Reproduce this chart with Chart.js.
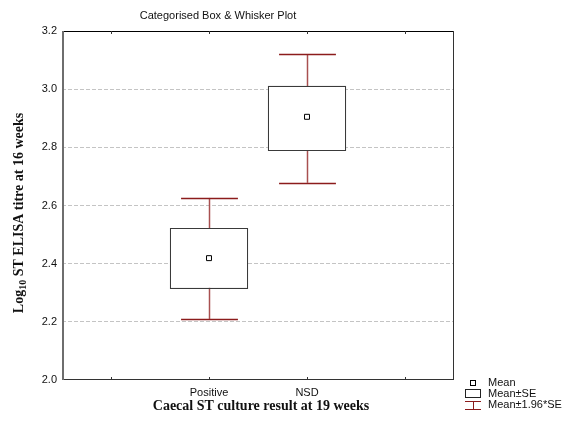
<!DOCTYPE html>
<html>
<head>
<meta charset="utf-8">
<script src="https://cdn.jsdelivr.net/npm/chart.js@4"></script>
<style>
  html, body { margin: 0; padding: 0; background: #fff; }
  #wrap { width: 562px; height: 421px; }
</style>
</head>
<body>
<div id="wrap"><canvas id="c" width="562" height="421"></canvas></div>
<script>
// ---- data ----
const categories = ['', 'Positive', 'NSD', ''];
const means  = [null, 2.419, 2.905, null];
const seLow  = [null, 2.313, 2.787, null];
const seHigh = [null, 2.523, 3.012, null];
const ciLow  = [null, 2.210, 2.678, null];
const ciHigh = [null, 2.626, 3.121, null];
const yTicks = [2.0, 2.2, 2.4, 2.6, 2.8, 3.0, 3.2];

const chartTitle = 'Categorised Box & Whisker Plot';
const xTitle = 'Caecal ST culture result at 19 weeks';
const legendLabels = ['Mean', 'Mean\u00B1SE', 'Mean\u00B11.96*SE'];

const RED = '#8c1c1c';
const SANS = '"Liberation Sans", Arial, sans-serif';
const SERIF = '"Liberation Serif", "Times New Roman", serif';

const boxData = categories.map((c, i) => seLow[i] == null ? null : [seLow[i], seHigh[i]]);

const customDraw = {
  id: 'customDraw',
  beforeDatasetsDraw(chart) {
    const ctx = chart.ctx, x = chart.scales.x, y = chart.scales.y;
    ctx.save();
    // whiskers (mean ± 1.96*SE)
    categories.forEach((c, i) => {
      if (ciLow[i] == null) return;
      const cx = Math.round(x.getPixelForValue(i)) + 0.5;
      const capHalf = x.width / categories.length * 0.29;
      const yl = y.getPixelForValue(ciLow[i]), yh = y.getPixelForValue(ciHigh[i]);
      ctx.strokeStyle = '#a85050';
      ctx.lineWidth = 1.5;
      ctx.beginPath();
      ctx.moveTo(cx, yl); ctx.lineTo(cx, yh);
      ctx.stroke();
      ctx.strokeStyle = RED;
      ctx.lineWidth = 1.5;
      ctx.beginPath();
      ctx.moveTo(cx - capHalf, Math.round(yl) + 0.5); ctx.lineTo(cx + capHalf, Math.round(yl) + 0.5);
      ctx.moveTo(cx - capHalf, Math.round(yh) + 0.5); ctx.lineTo(cx + capHalf, Math.round(yh) + 0.5);
      ctx.stroke();
    });
    ctx.restore();
  },
  afterDraw(chart) {
    const ctx = chart.ctx, a = chart.chartArea, x = chart.scales.x;
    ctx.save();
    // frame
    ctx.lineWidth = 1;
    ctx.strokeStyle = '#000';
    ctx.beginPath();
    ctx.moveTo(a.left, a.top + 0.5); ctx.lineTo(a.right, a.top + 0.5);
    ctx.stroke();
    ctx.strokeStyle = '#333';
    ctx.beginPath();
    ctx.moveTo(a.right - 0.5, a.top); ctx.lineTo(a.right - 0.5, a.bottom);
    ctx.moveTo(a.left, a.bottom - 0.5); ctx.lineTo(a.right, a.bottom - 0.5);
    ctx.stroke();
    ctx.strokeStyle = '#6e6e6e';
    ctx.lineWidth = 2;
    ctx.beginPath();
    ctx.moveTo(a.left + 1, a.top); ctx.lineTo(a.left + 1, a.bottom);
    ctx.stroke();
    // inward category tick marks (top and bottom)
    ctx.lineWidth = 1;
    ctx.strokeStyle = '#333';
    categories.forEach((c, i) => {
      const px = Math.round(x.getPixelForValue(i)) + 0.5;
      ctx.beginPath();
      ctx.moveTo(px, a.top); ctx.lineTo(px, a.top + 3);
      ctx.moveTo(px, a.bottom); ctx.lineTo(px, a.bottom - 3);
      ctx.stroke();
    });
    // chart title
    ctx.fillStyle = '#111';
    ctx.font = '11px ' + SANS;
    ctx.textAlign = 'center';
    ctx.textBaseline = 'middle';
    ctx.fillText(chartTitle, 218, 16);
    // x axis title
    ctx.font = 'bold 14px ' + SERIF;
    ctx.fillText(xTitle, 261, 406);
    // y axis title with subscript
    ctx.save();
    ctx.translate(18, 213);
    ctx.rotate(-Math.PI / 2);
    const bigF = 'bold 14px ' + SERIF, smallF = 'bold 10px ' + SERIF;
    const p1 = 'Log', p2 = '10', p3 = ' ST ELISA titre at 16 weeks';
    ctx.font = bigF; const w1 = ctx.measureText(p1).width, w3 = ctx.measureText(p3).width;
    ctx.font = smallF; const w2 = ctx.measureText(p2).width;
    let sx = -(w1 + w2 + w3) / 2;
    ctx.textAlign = 'left';
    ctx.textBaseline = 'alphabetic';
    ctx.font = bigF; ctx.fillText(p1, sx, 5); sx += w1;
    ctx.font = smallF; ctx.fillText(p2, sx, 8); sx += w2;
    ctx.font = bigF; ctx.fillText(p3, sx, 5);
    ctx.restore();
    // legend
    ctx.font = '11px ' + SANS;
    ctx.textAlign = 'left';
    ctx.textBaseline = 'middle';
    ctx.fillStyle = '#111';
    // Mean marker
    ctx.strokeStyle = '#000'; ctx.lineWidth = 1;
    ctx.strokeRect(470.5, 380.5, 5, 5);
    ctx.fillText(legendLabels[0], 488, 383);
    // box
    ctx.strokeStyle = '#222';
    ctx.strokeRect(465.5, 389.5, 15, 8);
    ctx.fillText(legendLabels[1], 488, 394);
    // whisker icon
    ctx.strokeStyle = RED;
    ctx.beginPath();
    ctx.moveTo(465, 401.5); ctx.lineTo(481, 401.5);
    ctx.moveTo(465, 409.5); ctx.lineTo(481, 409.5);
    ctx.moveTo(473.5, 401.5); ctx.lineTo(473.5, 409.5);
    ctx.stroke();
    ctx.fillText(legendLabels[2], 488, 405);
    ctx.restore();
  }
};

new Chart(document.getElementById('c'), {
  data: {
    labels: categories,
    datasets: [
      {
        type: 'bar',
        label: legendLabels[1],
        data: boxData,
        backgroundColor: '#ffffff',
        borderColor: '#3a3a3a',
        borderWidth: 1.2,
        borderSkipped: false,
        barPercentage: 0.8,
        categoryPercentage: 1.0,
        order: 2
      },
      {
        type: 'line',
        label: legendLabels[0],
        data: means,
        showLine: false,
        pointStyle: 'rect',
        pointRadius: 3.5,
        pointBackgroundColor: '#ffffff',
        pointBorderColor: '#000',
        pointBorderWidth: 1,
        order: 1
      }
    ]
  },
  options: {
    responsive: false,
    animation: false,
    devicePixelRatio: 1,
    layout: { padding: { left: 0, top: 31, right: 108, bottom: 0 } },
    plugins: {
      legend: { display: false },
      title: { display: false },
      tooltip: { enabled: false }
    },
    scales: {
      x: {
        type: 'category',
        offset: true,
        grid: { display: false, drawTicks: false },
        border: { display: false },
        ticks: { color: '#111', font: { family: SANS, size: 11 }, padding: 6, maxRotation: 0, autoSkip: false },
        afterFit(s) { s.height = 41; }
      },
      y: {
        min: 2.0, max: 3.2,
        afterBuildTicks(s) { s.ticks = yTicks.map(v => ({ value: v })); },
        grid: {
          drawTicks: false,
          color: ctx => (ctx.tick && (ctx.tick.value <= 2.0 || ctx.tick.value >= 3.2)) ? 'rgba(0,0,0,0)' : '#c4c4c4',
          lineWidth: 1
        },
        border: { display: false, dash: [4, 2] },
        ticks: {
          color: '#111',
          font: { family: SANS, size: 11 },
          padding: 5,
          callback: v => Number(v).toFixed(1)
        },
        afterFit(s) { s.width = 62; }
      }
    }
  },
  plugins: [customDraw]
});
</script>
</body>
</html>
